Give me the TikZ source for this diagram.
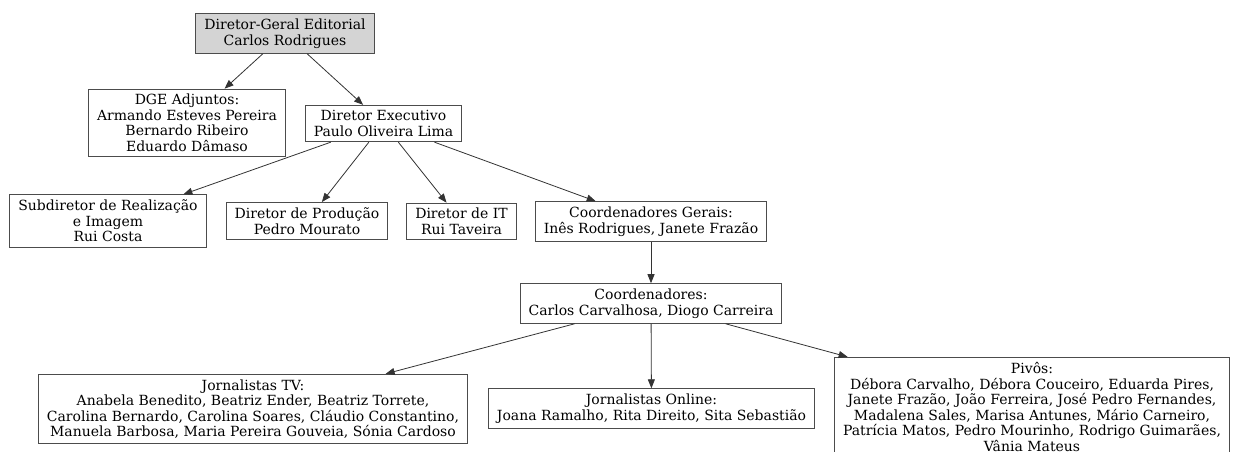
\documentclass[tikz,border=0pt]{standalone}
\usepackage{fontspec}
\setmainfont{DejaVu Serif}
\usetikzlibrary{arrows.meta}
\tikzset{
    cargo/.style = {rectangle, draw=black!70, line width=0.9pt, align=center, inner xsep=8.5pt, inner ysep=5.2pt, font=\fontsize{14}{15.5}\selectfont},
    chefe/.style = {cargo, fill=black!17},
    liga/.style = {-{Triangle[length=9pt,width=7pt]}, line width=0.8pt, draw=black!80}
}

\begin{document}
\begin{tikzpicture}[x=1pt, y=-1pt]
  \useasboundingbox (0,0) rectangle (1238,451);
  % topo
  \node (dge) at (285,33.5) [chefe] {Diretor-Geral Editorial\\Carlos Rodrigues};
  \node (adj) at (187,123) [cargo] {DGE Adjuntos:\\Armando Esteves Pereira\\Bernardo Ribeiro\\Eduardo Dâmaso};
  \node (exec) at (383.5,123.5) [cargo] {Diretor Executivo\\Paulo Oliveira Lima};
  % direcao
  \node (subdir) at (108,221) [cargo] {Subdiretor de Realização\\e Imagem\\Rui Costa};
  \node (prod) at (307,221) [cargo] {Diretor de Produção\\Pedro Mourato};
  \node (it) at (461.5,221.5) [cargo] {Diretor de IT\\Rui Taveira};
  \node (cger) at (651,221.5) [cargo] {Coordenadores Gerais:\\Inês Rodrigues, Janete Frazão};
  \node (coord) at (651,303.5) [cargo] {Coordenadores:\\Carlos Carvalhosa, Diogo Carreira};
  % redacao
  \node (tv) at (253,409) [cargo] {Jornalistas TV:\\Anabela Benedito, Beatriz Ender, Beatriz Torrete,\\Carolina Bernardo, Carolina Soares, Cláudio Constantino,\\Manuela Barbosa, Maria Pereira Gouveia, Sónia Cardoso};
  \node (online) at (651.5,408.5) [cargo] {Jornalistas Online:\\Joana Ramalho, Rita Direito, Sita Sebastião};
  \node (pivos) at (1032,407) [cargo] {Pivôs:\\Débora Carvalho, Débora Couceiro, Eduarda Pires,\\Janete Frazão, João Ferreira, José Pedro Fernandes,\\Madalena Sales, Marisa Antunes, Mário Carneiro,\\Patrícia Matos, Pedro Mourinho, Rodrigo Guimarães,\\Vânia Mateus};

  \draw[liga] (dge) -- (adj);
  \draw[liga] (dge) -- (exec);
  \draw[liga] (exec) -- (subdir);
  \draw[liga] (exec) -- (prod);
  \draw[liga] (exec) -- (it);
  \draw[liga] (exec) -- (cger);
  \draw[liga] (cger) -- (coord);
  \draw[liga] (coord) -- (tv);
  \draw[liga] (coord) -- (online);
  \draw[liga] (coord) -- (pivos);
\end{tikzpicture}
\end{document}
